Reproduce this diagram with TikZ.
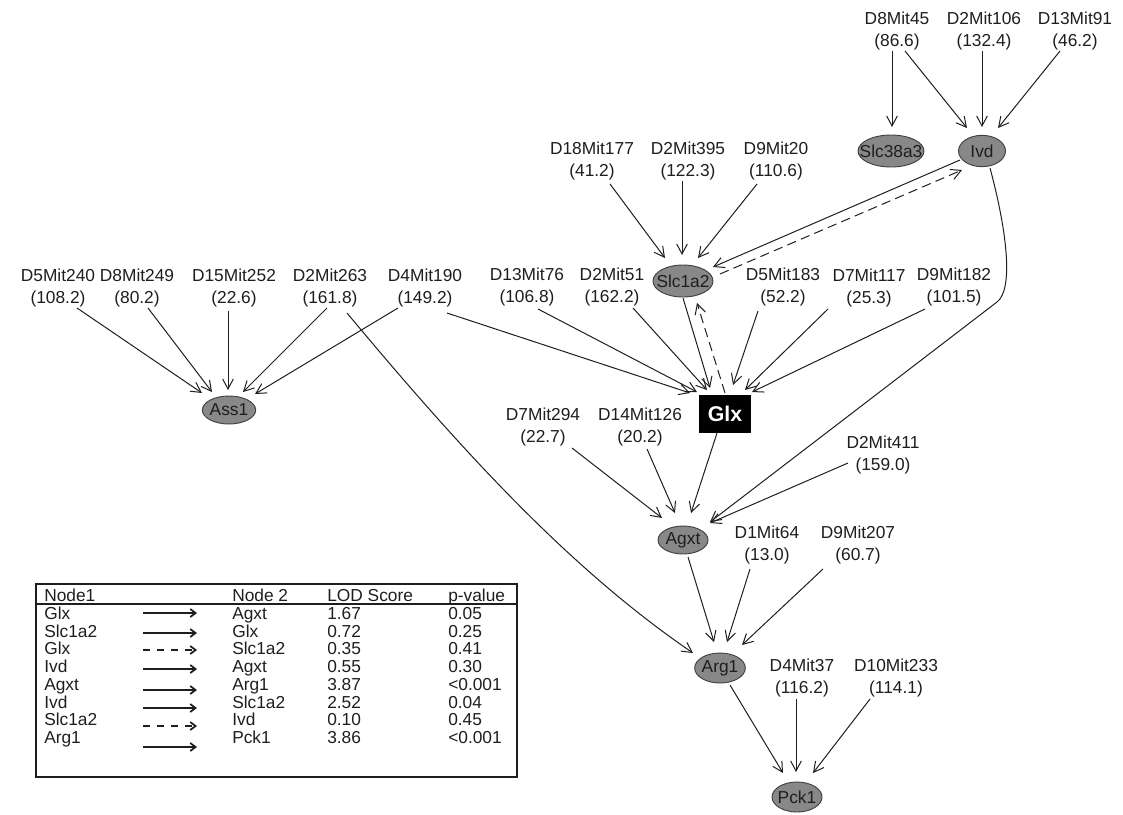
\documentclass[tikz,border=0pt]{standalone}
\usepackage{fontspec}
\setmainfont{Liberation Sans}
\usetikzlibrary{arrows.meta,shapes.geometric}
\definecolor{ink}{HTML}{1E1E1E}
\definecolor{nodefill}{HTML}{888888}
\definecolor{nodeline}{HTML}{404040}
\tikzset{
 mk/.style={line width=0.75pt, draw=ink, -{Straight Barb[length=7.5pt,width=8pt,line width=0.75pt]}},
 dsh/.style={mk, dash pattern=on 7pt off 4pt},
 lab/.style={font=\fontsize{13pt}{16.5pt}\selectfont, align=center, text=ink, inner sep=0pt},
 gene/.style={ellipse, draw=nodeline, fill=nodefill, line width=0.7pt, inner sep=0pt, text=ink, font=\fontsize{13pt}{15pt}\selectfont},
 glxbox/.style={rectangle, fill=black, text=white, font=\fontsize{16pt}{18pt}\selectfont\bfseries, minimum width=39pt, minimum height=28.5pt, inner sep=0pt},
 tbl/.style={font=\fontsize{13pt}{15pt}\selectfont, text=ink, inner sep=0pt, anchor=base west},
 tarrow/.style={line width=0.8pt, draw=ink, -{Straight Barb[length=4pt,width=6pt,line width=1.3pt]}},
 tsolid/.style={},
 tdash/.style={dash pattern=on 5.5pt off 5pt},
}
\begin{document}
\begin{tikzpicture}[x=0.75pt,y=-0.75pt]
\useasboundingbox (0,0) rectangle (1123,814);

% gene nodes
\node[gene, minimum width=49.5pt, minimum height=24pt] (slc38a3) at (891,151) {\makebox[0pt]{Slc38a3}};
\node[gene, minimum width=35.25pt, minimum height=23.5pt] (ivd) at (982,151) {\makebox[0pt]{Ivd}};
\node[gene, minimum width=45pt, minimum height=24pt] (slc1a2) at (683,281) {\makebox[0pt]{Slc1a2}};
\node[gene, minimum width=40pt, minimum height=21pt] (ass1) at (229,410) {\makebox[0pt]{Ass1}};
\node[glxbox] (glx) at (725,414) {Glx};
\node[gene, minimum width=37.5pt, minimum height=21pt] (agxt) at (683,540) {\makebox[0pt]{Agxt}};
\node[gene, minimum width=38pt, minimum height=22.5pt] (arg1) at (720,668) {\makebox[0pt]{Arg1}};
\node[gene, minimum width=37.5pt, minimum height=22.5pt] (pck1) at (797,797) {\makebox[0pt]{Pck1}};

% marker labels
\node[lab] (d8mit45) at (897,31) {D8Mit45\\(86.6)};
\node[lab] (d2mit106) at (984,31) {D2Mit106\\(132.4)};
\node[lab] (d13mit91) at (1075,31) {D13Mit91\\(46.2)};
\node[lab] (d18mit177) at (592,161) {D18Mit177\\(41.2)};
\node[lab] (d2mit395) at (688,161) {D2Mit395\\(122.3)};
\node[lab] (d9mit20) at (776,161) {D9Mit20\\(110.6)};
\node[lab] (d5mit240) at (58,288) {D5Mit240\\(108.2)};
\node[lab] (d8mit249) at (137,288) {D8Mit249\\(80.2)};
\node[lab] (d15mit252) at (234,288) {D15Mit252\\(22.6)};
\node[lab] (d2mit263) at (330,288) {D2Mit263\\(161.8)};
\node[lab] (d4mit190) at (425,288) {D4Mit190\\(149.2)};
\node[lab] (d13mit76) at (527,287) {D13Mit76\\(106.8)};
\node[lab] (d2mit51) at (612,287) {D2Mit51\\(162.2)};
\node[lab] (d5mit183) at (783,287) {D5Mit183\\(52.2)};
\node[lab] (d7mit117) at (869,288) {D7Mit117\\(25.3)};
\node[lab] (d9mit182) at (954,287) {D9Mit182\\(101.5)};
\node[lab] (d7mit294) at (543,427) {D7Mit294\\(22.7)};
\node[lab] (d14mit126) at (640,427) {D14Mit126\\(20.2)};
\node[lab] (d2mit411) at (883,455) {D2Mit411\\(159.0)};
\node[lab] (d1mit64) at (767,545) {D1Mit64\\(13.0)};
\node[lab] (d9mit207) at (858,545) {D9Mit207\\(60.7)};
\node[lab] (d4mit37) at (802,678) {D4Mit37\\(116.2)};
\node[lab] (d10mit233) at (896,678) {D10Mit233\\(114.1)};

% top
\draw[mk] ([shift={(-5,20)}]d8mit45.center) -- ([shift={(1,-24)}]slc38a3.center);
\draw[mk] ([shift={(8,20)}]d8mit45.center) -- ([shift={(-15,-23)}]ivd.center);
\draw[mk] ([shift={(-2,20)}]d2mit106.center) -- ([shift={(0,-24)}]ivd.center);
\draw[mk] ([shift={(-15,20)}]d13mit91.center) -- ([shift={(16,-23)}]ivd.center);
% Slc1a2
\draw[mk] ([shift={(18,23)}]d18mit177.center) -- ([shift={(-18,-23)}]slc1a2.center);
\draw[mk] ([shift={(-6,20)}]d2mit395.center) -- ([shift={(-1,-26)}]slc1a2.center);
\draw[mk] ([shift={(-19,23)}]d9mit20.center) -- ([shift={(15,-23)}]slc1a2.center);
\draw[mk] ([shift={(-22,9)}]ivd.center) -- ([shift={(30,-14)}]slc1a2.center);
\draw[dsh] ([shift={(37,-7)}]slc1a2.center) -- ([shift={(-20,19)}]ivd.center);
% Ass1
\draw[mk] ([shift={(19,20)}]d5mit240.center) -- ([shift={(-27,-17)}]ass1.center);
\draw[mk] ([shift={(11,20)}]d8mit249.center) -- ([shift={(-17,-18)}]ass1.center);
\draw[mk] ([shift={(-6,23)}]d15mit252.center) -- ([shift={(-1,-20)}]ass1.center);
\draw[mk] ([shift={(-3,20)}]d2mit263.center) -- ([shift={(14,-18)}]ass1.center);
\draw[mk] ([shift={(-27,20)}]d4mit190.center) -- ([shift={(26,-16)}]ass1.center);
% Glx
\draw[mk] ([shift={(22,25)}]d4mit190.center) -- ([shift={(-35,-21)}]glx.center);
\draw[mk] ([shift={(11,22)}]d13mit76.center) -- ([shift={(-28,-22)}]glx.center);
\draw[mk] ([shift={(21,21)}]d2mit51.center) -- ([shift={(-18,-24)}]glx.center);
\draw[mk] ([shift={(0,17)}]slc1a2.center) -- ([shift={(-15,-26)}]glx.center);
\draw[dsh] ([shift={(0,-21)}]glx.center) -- ([shift={(14,22)}]slc1a2.center);
\draw[mk] ([shift={(-25,24)}]d5mit183.center) -- ([shift={(8,-29)}]glx.center);
\draw[mk] ([shift={(-41,21)}]d7mit117.center) -- ([shift={(20,-24)}]glx.center);
\draw[mk] ([shift={(-29,22)}]d9mit182.center) -- ([shift={(27,-22)}]glx.center);
% Agxt
\draw[mk] ([shift={(29,21)}]d7mit294.center) -- ([shift={(-21,-22)}]agxt.center);
\draw[mk] ([shift={(7,22)}]d14mit126.center) -- ([shift={(-8,-27)}]agxt.center);
\draw[mk] ([shift={(-8,19)}]glx.center) -- ([shift={(8,-27)}]agxt.center);
\draw[mk] ([shift={(-35,8)}]d2mit411.center) -- ([shift={(27,-17)}]agxt.center);
\coordinate (ivdbend) at (997,302);
\draw[mk] ([shift={(8,17)}]ivd.center) .. controls (1008,235) and (1013,290) .. (ivdbend) -- ([shift={(27,-18)}]agxt.center);
% Arg1
\draw[mk] ([shift={(17,25)}]d2mit263.center) .. controls (467,457) and (573,571) .. ([shift={(-27,-15)}]arg1.center);
\draw[mk] ([shift={(5,17)}]agxt.center) -- ([shift={(-6,-26)}]arg1.center);
\draw[mk] ([shift={(-17,24)}]d1mit64.center) -- ([shift={(7,-26)}]arg1.center);
\draw[mk] ([shift={(-35,24)}]d9mit207.center) -- ([shift={(22,-23)}]arg1.center);
% Pck1
\draw[mk] ([shift={(10,17)}]arg1.center) -- ([shift={(-14,-24)}]pck1.center);
\draw[mk] ([shift={(-6,21)}]d4mit37.center) -- ([shift={(-1,-25)}]pck1.center);
\draw[mk] ([shift={(-26,21)}]d10mit233.center) -- ([shift={(16,-24)}]pck1.center);

% table
\draw[line width=0.8pt, draw=ink] (36,584) rectangle (517,777);
\draw[line width=0.8pt, draw=ink] (36,604) -- (517,604);
\node[tbl] (h1) at (44,601) {Node1};
\node[tbl] (h2) at (232,601) {Node 2};
\node[tbl] (h3) at (327,601) {LOD Score};
\node[tbl] (h4) at (448,601) {p-value};
\foreach \i/\a/\b/\c/\d/\ty/\ay/\st in {
 1/Glx/Agxt/1.67/0.05/619/613/tsolid,
 2/Slc1a2/Glx/0.72/0.25/637/633/tsolid,
 3/Glx/Slc1a2/0.35/0.41/654/650/tdash,
 4/Ivd/Agxt/0.55/0.30/672/669/tsolid,
 5/Agxt/Arg1/3.87/<0.001/690/690/tsolid,
 6/Ivd/Slc1a2/2.52/0.04/708/708/tsolid,
 7/Slc1a2/Ivd/0.10/0.45/725/726/tdash,
 8/Arg1/Pck1/3.86/<0.001/743/747/tsolid}{
 \node[tbl] (na-\i) at (44,\ty) {\a};
 \node[tbl] (nb-\i) at (232,\ty) {\b};
 \node[tbl] (lod-\i) at (327,\ty) {\c};
 \node[tbl] (pv-\i) at (448,\ty) {\d};
 \coordinate (ta-\i) at (143,\ay);
 \coordinate (tb-\i) at (197,\ay);
 \draw[tarrow,\st] (ta-\i) -- (tb-\i);
}
\end{tikzpicture}
\end{document}
